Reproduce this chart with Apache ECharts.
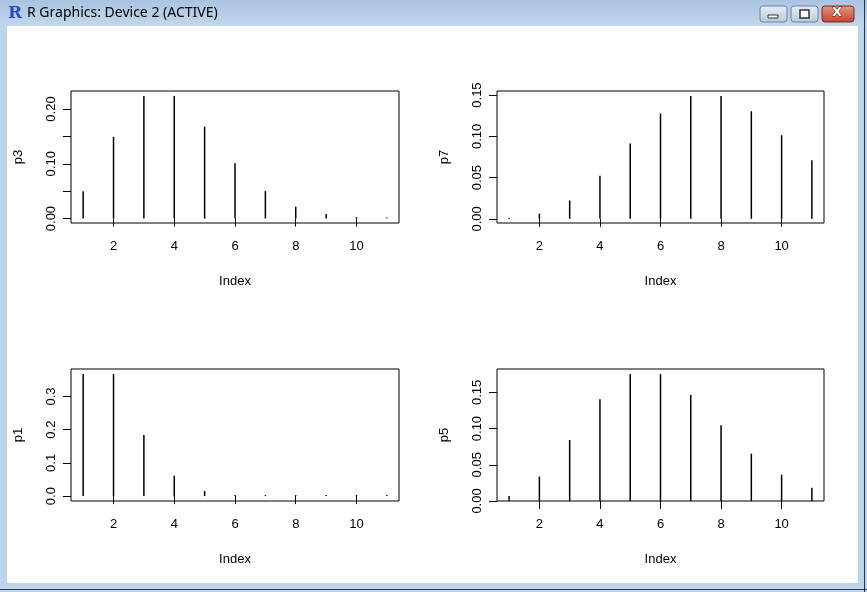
<!DOCTYPE html>
<html><head><meta charset="utf-8">
<script src="https://cdn.jsdelivr.net/npm/echarts@6/dist/echarts.min.js"></script>
<style>html,body{margin:0;padding:0;background:#fff}#c{width:867px;height:592px}</style>
</head><body><div id="c"></div>
<script>
// Data (index 1..11)
const idx = [1, 2, 3, 4, 5, 6, 7, 8, 9, 10, 11];
const p3 = [0.0498, 0.1494, 0.2240, 0.2240, 0.1680, 0.1008, 0.0504, 0.0216, 0.0081, 0.0027, 0.0008];
const p7 = [0.0009, 0.0064, 0.0223, 0.0521, 0.0912, 0.1277, 0.1490, 0.1490, 0.1304, 0.1014, 0.0710];
const p1 = [0.3679, 0.3679, 0.1839, 0.0613, 0.0153, 0.0031, 0.0005, 0.00007, 0.00001, 0.000001, 0.0000001];
const p5 = [0.0067, 0.0337, 0.0842, 0.1404, 0.1755, 0.1755, 0.1462, 0.1044, 0.0653, 0.0363, 0.0181];
const xTicks = [2, 4, 6, 8, 10];
const p3Ticks = [0, 0.05, 0.10, 0.15, 0.20], p3Labels = [0, 0.10, 0.20];
const p7Ticks = [0, 0.05, 0.10, 0.15];
const p1Ticks = [0, 0.1, 0.2, 0.3];
const p5Ticks = [0, 0.05, 0.10, 0.15];

const FONT = 'Liberation Sans, Arial, sans-serif';
const panels = [
  {name: 'p3', data: p3, ticks: p3Ticks, labels: p3Labels, dec: 2, grid: {left: 71, top: 91, width: 328, height: 132}},
  {name: 'p7', data: p7, ticks: p7Ticks, labels: p7Ticks, dec: 2, grid: {left: 497, top: 91, width: 327, height: 132}},
  {name: 'p1', data: p1, ticks: p1Ticks, labels: p1Ticks, dec: 1, grid: {left: 71, top: 369, width: 328, height: 132}},
  {name: 'p5', data: p5, ticks: p5Ticks, labels: p5Ticks, dec: 2, grid: {left: 497, top: 369, width: 327, height: 132}}
];
function rlim(arr) { // R default 4% axis extension
  const mn = Math.min(...arr), mx = Math.max(...arr), e = (mx - mn) * 0.04;
  return [mn - e, mx + e];
}
const grids = [], xAxes = [], yAxes = [], series = [];
panels.forEach((p, i) => {
  grids.push(Object.assign({show: true, borderColor: '#000', borderWidth: 1, backgroundColor: 'transparent'}, p.grid));
  const xl = rlim(idx), yl = rlim(p.data);
  xAxes.push({
    type: 'value', gridIndex: i, min: xl[0], max: xl[1],
    splitLine: {show: false}, axisLine: {show: false},
    axisTick: {show: true, inside: false, length: 8, lineStyle: {color: '#000'}, customValues: xTicks},
    axisLabel: {customValues: xTicks, margin: 17, color: '#000', fontFamily: FONT, fontSize: 13},
    name: 'Index', nameLocation: 'middle', nameGap: 52,
    nameTextStyle: {color: '#000', fontFamily: FONT, fontSize: 13}
  });
  yAxes.push({
    type: 'value', gridIndex: i, min: yl[0], max: yl[1],
    splitLine: {show: false}, axisLine: {show: false},
    axisTick: {show: true, inside: false, length: 8, lineStyle: {color: '#000'}, customValues: p.ticks},
    axisLabel: {customValues: p.labels, rotate: 90, align: 'center', verticalAlign: 'bottom', margin: 13,
      color: '#000', fontFamily: FONT, fontSize: 13, formatter: v => Number(v).toFixed(p.dec)},
    name: p.name, nameLocation: 'middle', nameGap: 46, nameRotate: 90,
    nameTextStyle: {color: '#000', fontFamily: FONT, fontSize: 13}
  });
  series.push({
    type: 'bar', xAxisIndex: i, yAxisIndex: i, barWidth: 1.5, barMinHeight: 1,
    itemStyle: {color: '#000'}, silent: true, animation: false,
    data: idx.map((x, k) => [x, p.data[k]])
  });
});

const chrome = [
  {type: 'rect', shape: {x: 0, y: 0, width: 867, height: 592}, style: {fill: '#bcd4ec'}, z: -10},
  {type: 'rect', shape: {x: 0, y: 0, width: 867, height: 26},
    style: {fill: new echarts.graphic.LinearGradient(0, 0, 0, 1, [{offset: 0, color: '#a9c4e2'}, {offset: 1, color: '#c2d7ee'}])}, z: -9},
  {type: 'rect', shape: {x: 7, y: 26, width: 851, height: 557}, style: {fill: '#ffffff'}, z: -8},
  {type: 'rect', shape: {x: 0, y: 589, width: 867, height: 1}, style: {fill: '#2a3442'}, z: -7},
  {type: 'rect', shape: {x: 864, y: 0, width: 1, height: 592}, style: {fill: '#2a3442'}, z: -7},
  {type: 'text', x: 8, y: 5, style: {text: 'R', fill: '#2a4fc0', font: 'bold 17px DejaVu Serif'}, z: -5},
  {type: 'text', x: 27, y: 6, style: {text: 'R Graphics: Device 2 (ACTIVE)', fill: '#000', font: '14px Noto Sans'}, z: -5},
  {type: 'rect', shape: {x: 760, y: 6, width: 27, height: 16, r: 3},
    style: {fill: new echarts.graphic.LinearGradient(0, 0, 0, 1, [{offset: 0, color: '#e8eef6'}, {offset: 1, color: '#b8c9de'}]), stroke: '#6e83a0'}, z: -5},
  {type: 'rect', shape: {x: 768, y: 15, width: 10, height: 3}, style: {fill: '#fff', stroke: '#333', lineWidth: 1}, z: -4},
  {type: 'rect', shape: {x: 791, y: 6, width: 27, height: 16, r: 3},
    style: {fill: new echarts.graphic.LinearGradient(0, 0, 0, 1, [{offset: 0, color: '#e8eef6'}, {offset: 1, color: '#b8c9de'}]), stroke: '#6e83a0'}, z: -5},
  {type: 'rect', shape: {x: 800, y: 10, width: 9, height: 8}, style: {fill: '#fff', stroke: '#333', lineWidth: 1.5}, z: -4},
  {type: 'rect', shape: {x: 822, y: 6, width: 32, height: 16, r: 3},
    style: {fill: new echarts.graphic.LinearGradient(0, 0, 0, 1, [{offset: 0, color: '#e39a84'}, {offset: 1, color: '#c3442c'}]), stroke: '#7a2d22'}, z: -5},
  {type: 'text', x: 832, y: 6, style: {text: 'X', fill: '#fff', font: 'bold 13px DejaVu Sans', stroke: '#5a1d12', lineWidth: 1}, z: -4}
];

const chart = echarts.init(document.getElementById('c'), null, {renderer: 'canvas'});
chart.setOption({
  animation: false,
  backgroundColor: '#fff',
  graphic: chrome,
  grid: grids, xAxis: xAxes, yAxis: yAxes, series: series
});
</script></body></html>
